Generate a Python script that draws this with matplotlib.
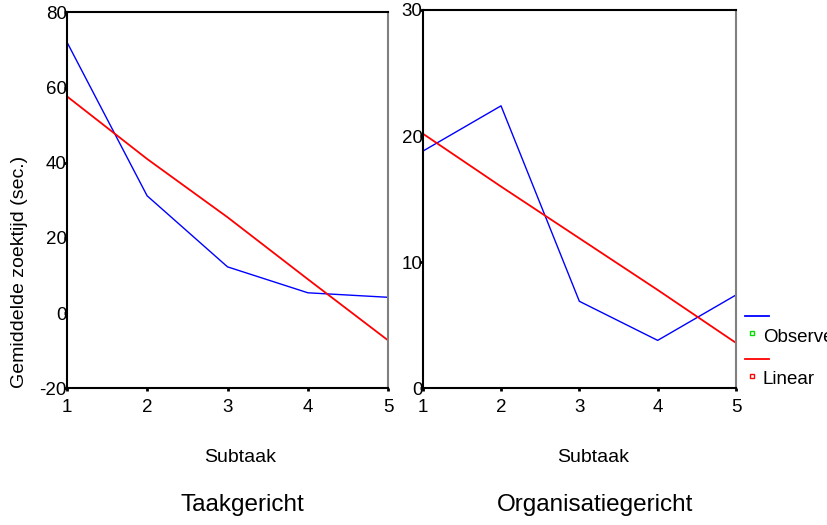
import numpy as np
import matplotlib.pyplot as plt
from matplotlib.lines import Line2D

plt.rcParams['font.family'] = ['Liberation Sans', 'DejaVu Sans']
plt.rcParams['axes.unicode_minus'] = False

subtaak = [1, 2, 3, 4, 5]
taak_observed = [72.2, 31.2, 12.3, 5.4, 4.2]
taak_linear = [57.7, 41.0, 25.5, 9.0, -7.3]
org_observed = [18.8, 22.4, 6.9, 3.8, 7.4]
org_linear = [20.2, 16.0, 11.9, 7.8, 3.6]

fig = plt.figure(figsize=(8.28, 5.25), dpi=100)
W, H = 828, 525

ax1 = fig.add_axes([66.7 / W, 1 - 388.3 / H, 321.6 / W, 376 / H])
ax2 = fig.add_axes([422.7 / W, 1 - 388.3 / H, 313.3 / W, 378.3 / H])

ax1.plot(subtaak, taak_observed, color='blue', lw=1.0)
ax1.plot(subtaak, taak_linear, color='red', lw=1.3)
ax2.plot(subtaak, org_observed, color='blue', lw=1.0)
ax2.plot(subtaak, org_linear, color='red', lw=1.3)

ax1.set_ylim(-20, 80)
ax1.set_yticks([-20, 0, 20, 40, 60, 80])
ax2.set_ylim(0, 30)
ax2.set_yticks([0, 10, 20, 30])

for ax in (ax1, ax2):
    ax.set_xlim(1, 5)
    ax.set_xticks(subtaak)
    ax.tick_params(axis='both', length=2, width=2, labelsize=13.5)
    ax.tick_params(axis='y', pad=-2)
    ax.tick_params(axis='x', pad=6)
    for s in ('left', 'top', 'bottom'):
        ax.spines[s].set_linewidth(1.5)
        ax.spines[s].set_color('black')
    ax.spines['right'].set_color('#808080')
    ax.spines['right'].set_linewidth(1.5)

fig.text(20 / W, 1 - 388 / H, 'Gemiddelde zoektijd (sec.)', rotation=90,
         ha='center', va='bottom', fontsize=14)
fig.text(240 / W, 1 - 458 / H, 'Subtaak', ha='center', va='center', fontsize=14)
fig.text(593 / W, 1 - 458 / H, 'Subtaak', ha='center', va='center', fontsize=14)
fig.text(242 / W, 1 - 505 / H, 'Taakgericht', ha='center', va='center', fontsize=17.5)
fig.text(595 / W, 1 - 505 / H, 'Organisatiegericht', ha='center', va='center', fontsize=17.5)

# legend (right side, cut off as in original)
fig.add_artist(Line2D([745 / W, 769 / W], [1 - 316 / H] * 2, color='blue', lw=1.3))
fig.add_artist(Line2D([752 / W], [1 - 333 / H], marker='s', ms=3.5, mfc='none',
                      mec='#00dd00', mew=1.0, ls='none'))
fig.text(763 / W, 1 - 337 / H, 'Observed', ha='left', va='center', fontsize=13.5)
fig.add_artist(Line2D([745 / W, 769 / W], [1 - 359 / H] * 2, color='red', lw=1.3))
fig.add_artist(Line2D([752 / W], [1 - 376 / H], marker='s', ms=3.5, mfc='none',
                      mec='red', mew=1.0, ls='none'))
fig.text(763 / W, 1 - 380 / H, 'Linear', ha='left', va='center', fontsize=13.5)

fig.savefig('out.png', dpi=100)
